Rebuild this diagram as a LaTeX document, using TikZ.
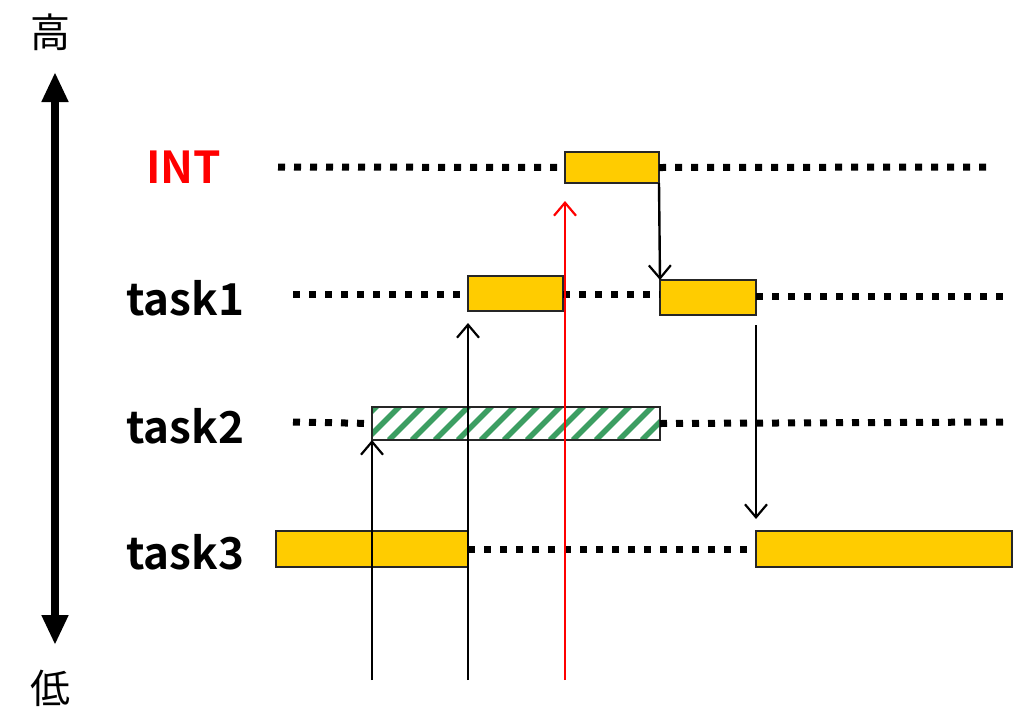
\documentclass[tikz,border=0pt]{standalone}
\usepackage{fontspec}
\setmainfont{Noto Sans CJK JP}
\newfontfamily\lblfont{Noto Sans CJK JP Bold}
\usetikzlibrary{arrows.meta}
\definecolor{boxyellow}{RGB}{255,204,0}
\definecolor{stripegreen}{RGB}{60,158,98}
\definecolor{intred}{RGB}{255,0,0}
\tikzset{
  ybox/.style={draw=black!85, line width=1.8pt, fill=boxyellow, inner sep=0pt, outer sep=0pt, anchor=north west},
  hbox/.style={draw=black!85, line width=1.8pt, fill=white, inner sep=0pt, outer sep=0pt, anchor=north west,
    path picture={\foreach \i in {-2,...,14}{\draw[stripegreen, line width=5.5pt] ([xshift=\i*23pt-6pt]path picture bounding box.south west) -- ++(40pt,40pt);}}},
  dotline/.style={line width=7pt, dash pattern=on 7pt off 9pt},
  arr/.style={line width=2.4pt, -{Straight Barb[length=13pt,width=22pt,line width=2.2pt]}},
  tasklbl/.style={font=\lblfont\fontsize{44}{44}\selectfont, inner sep=0pt, anchor=west},
  yaxis/.style={line width=8pt, {Triangle[length=30pt,width=25pt]}-{Triangle[length=30pt,width=25pt]}},
  cjklbl/.style={font=\fontsize{40}{40}\selectfont, inner sep=0pt}
}
\begin{document}
\begin{tikzpicture}[x=1pt,y=-1pt]
\useasboundingbox[fill=white] (0,0) rectangle (1015,713);
% axis
\node[cjklbl] (hi) at (50,32) {高};
\node[cjklbl] (lo) at (50,688) {低};
\coordinate (axt) at (55,72);
\coordinate (axb) at (55,645);
\draw[yaxis] (axt) -- (axb);
% labels
\node[tasklbl, text=intred] (lint) at (146,167) {INT};
\node[tasklbl] (l1) at (126,298) {task1};
\node[tasklbl] (l2) at (126,426) {task2};
\node[tasklbl] (l3) at (126,552) {task3};
% boxes
\node[ybox, minimum width=94pt, minimum height=31pt] (int) at (565,152) {};
\node[ybox, minimum width=95pt, minimum height=35pt] (t1a) at (468,276) {};
\node[ybox, minimum width=96pt, minimum height=35pt] (t1b) at (660,280) {};
\node[hbox, minimum width=288pt, minimum height=33pt] (t2) at (372,407) {};
\node[ybox, minimum width=192pt, minimum height=36pt] (t3a) at (276,531) {};
\node[ybox, minimum width=256pt, minimum height=36pt] (t3b) at (756,531) {};
% dotted lines
\coordinate (d0s) at (278,167);
\coordinate (d0e) at (992,167);
\coordinate (d1s) at (293,294);
\coordinate (d1e) at (1007,296);
\coordinate (d2s) at (293,422);
\coordinate (d2e) at (1007,422);
\draw[dotline] (d0s) -- (int.west);
\draw[dotline] (int.east) -- (d0e);
\draw[dotline] (d1s) -- (t1a.west |- d1s);
\draw[dotline] (t1a.east |- d1s) -- (t1b.west |- d1s);
\draw[dotline] (t1b.east |- d1e) -- (d1e);
\draw[dotline] (d2s) -- (t2.west);
\draw[dotline] (t2.east) -- (d2e);
\draw[dotline] (t3a.east) -- (t3b.west);
% arrows
\coordinate (b1) at (372,680);
\coordinate (b2) at (468,680);
\coordinate (b3) at (565,680);
\draw[arr] (b1) -- (t2.south west);
\draw[arr] (b2) -- ([yshift=-12pt]t1a.south west);
\draw[arr, draw=intred] (b3) -- ([yshift=-18pt]int.south west);
\draw[arr] (int.south east) -- (t1b.north west);
\draw[arr] ([yshift=-10pt]t1b.south east) -- ([yshift=12pt]t3b.north west);
\end{tikzpicture}
\end{document}
